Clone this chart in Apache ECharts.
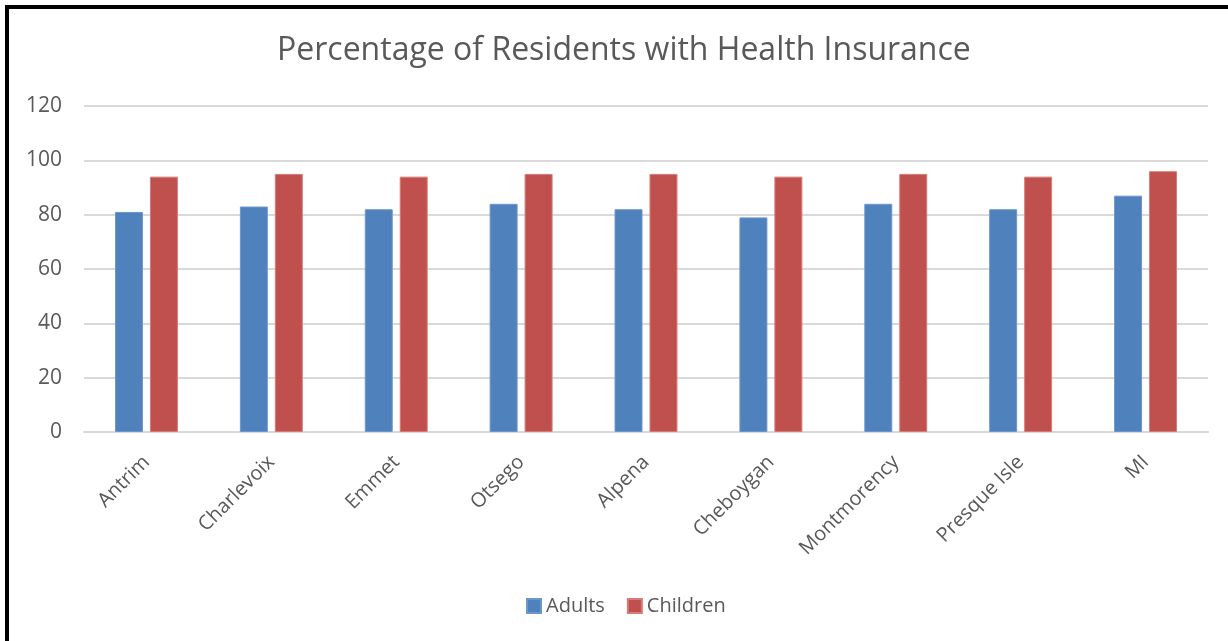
<!DOCTYPE html>
<html>
<head>
<meta charset="utf-8">
<script src="https://cdn.jsdelivr.net/npm/echarts@6/dist/echarts.min.js"></script>
<style>
  html, body { margin: 0; padding: 0; background: #fff; overflow: hidden; }
  #frame {
    position: absolute; left: 5px; top: 5px;
    width: 1240px; height: 660px;
    border: 4px solid #000; box-sizing: border-box;
  }
  #chart { position: absolute; left: 0; top: 0; width: 1228px; height: 641px; }
</style>
</head>
<body>
<div id="frame"></div>
<div id="chart"></div>
<script>
const counties = ['Antrim', 'Charlevoix', 'Emmet', 'Otsego', 'Alpena', 'Cheboygan', 'Montmorency', 'Presque Isle', 'MI'];
const adults   = [81, 83, 82, 84, 82, 79, 84, 82, 87];
const children = [94, 95, 94, 95, 95, 94, 95, 94, 96];
const yTicks   = [0, 20, 40, 60, 80, 100, 120];

const FONT = '"Open Sans", "Noto Sans", sans-serif';
const TEXT = '#595959';

const chart = echarts.init(document.getElementById('chart'), null, { renderer: 'canvas' });
chart.setOption({
  animation: false,
  backgroundColor: 'transparent',
  title: {
    text: 'Percentage of Residents with Health Insurance',
    left: 272,
    top: 30,
    textStyle: { fontFamily: FONT, fontSize: 32, fontWeight: 'normal', color: TEXT }
  },
  legend: {
    bottom: 20,
    left: 521,
    itemWidth: 14,
    itemHeight: 14,
    itemGap: 22,
    icon: 'rect',
    textStyle: { fontFamily: FONT, fontSize: 20, color: TEXT }
  },
  grid: { left: 84, right: 20, top: 106, bottom: 209, containLabel: false },
  xAxis: {
    type: 'category',
    data: counties,
    axisLine: { lineStyle: { color: '#d9d9d9', width: 2 } },
    axisTick: { show: false },
    axisLabel: {
      rotate: 45, interval: 0, margin: 27,
      fontFamily: FONT, fontSize: 20, color: TEXT
    }
  },
  yAxis: {
    type: 'value',
    min: yTicks[0],
    max: yTicks[yTicks.length - 1],
    interval: 20,
    axisLine: { show: false },
    axisTick: { show: false },
    splitLine: { lineStyle: { color: '#d9d9d9', width: 2 } },
    axisLabel: { margin: 22, fontFamily: FONT, fontSize: 21, color: TEXT }
  },
  series: [
    {
      name: 'Adults', type: 'bar', data: adults,
      barWidth: '22.4%', barGap: '25%',
      itemStyle: { color: '#4f81bd', borderColor: '#6d97cc', borderWidth: 1 }
    },
    {
      name: 'Children', type: 'bar', data: children,
      barWidth: '22.4%',
      itemStyle: { color: '#c0504d', borderColor: '#d77b78', borderWidth: 1 }
    }
  ]
});
</script>
</body>
</html>
